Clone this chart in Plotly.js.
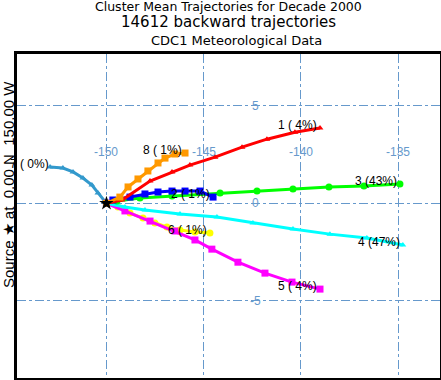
<!DOCTYPE html>
<html>
<head>
<meta charset="utf-8">
<script src="https://cdn.plot.ly/plotly-3.0.1.min.js"></script>
<style>html,body{margin:0;padding:0;background:#fff;}#chart{width:441px;height:380px;}</style>
</head>
<body>
<div id="chart"></div>
<script>
// Source location
const srcLon = [-150.0];
const srcLat = [0.0];

// Cluster mean trajectories (lon, lat), starting at the source
const lon1 = [-150.0, -149.20, -147.76, -146.63, -145.71, -144.42, -143.03, -141.75, -140.31, -139.02];
const lat1 = [0.0, 0.17, 1.14, 1.61, 1.96, 2.37, 2.88, 3.29, 3.65, 3.86];
const lon2 = [-150.0, -149.67, -148.79, -148.02, -147.35, -146.63, -145.96, -145.19, -144.52];
const lat2 = [0.0, 0.17, 0.32, 0.48, 0.58, 0.63, 0.63, 0.63, 0.32];
const lon3 = [-150.0, -149.46, -148.28, -146.63, -144.16, -142.26, -140.41, -138.56, -136.76, -134.91];
const lat3 = [0.0, 0.12, 0.27, 0.37, 0.53, 0.63, 0.73, 0.84, 0.89, 0.99];
const lon4 = [-150.0, -149.05, -148.02, -146.22, -144.32, -142.47, -140.41, -138.51, -136.61, -134.76];
const lat4 = [0.0, -0.19, -0.34, -0.55, -0.70, -1.01, -1.32, -1.58, -1.78, -2.14];
const lon5 = [-150.0, -149.05, -147.76, -146.48, -145.45, -144.58, -143.24, -141.85, -140.46, -139.02];
const lat5 = [0.0, -0.39, -0.91, -1.42, -1.88, -2.35, -3.02, -3.58, -4.04, -4.40];
const lon6 = [-150.0, -149.41, -148.79, -148.12, -147.51, -146.89, -146.22, -145.45, -144.68];
const lat6 = [0.0, -0.19, -0.50, -0.75, -1.01, -1.22, -1.37, -1.47, -1.52];
const lon7 = [-150.0, -150.44, -150.75, -151.21, -151.72, -152.24, -152.90];
const lat7 = [0.0, 0.53, 0.94, 1.30, 1.61, 1.81, 1.86];
const lon8 = [-150.0, -149.31, -148.89, -148.38, -147.87, -147.35, -146.99, -146.48, -145.96];
const lat8 = [0.0, 0.32, 0.84, 1.25, 1.66, 2.07, 2.32, 2.53, 2.58];

const clusterLabels = ["1 ( 4%)", "2 ( 1%)", "3 (43%)", "4 (47%)", "5 ( 4%)", "6 ( 1%)", "7 ( 0%)", "8 ( 1%)"];
const lonTicks = [-150, -145, -140, -135];
const lonTickText = ["-150", "-145", "-140", "-135"];
const latTicks = [5, 0, -5];
const latTickText = ["5", "0", "-5"];
const lonLabelLat = 2.65;    // latitude where longitude labels sit
const latLabelLon = -142.35; // longitude where latitude labels sit

const lons = [lon1, lon2, lon3, lon4, lon5, lon6, lon7, lon8];
const lats = [lat1, lat2, lat3, lat4, lat5, lat6, lat7, lat8];
const colors = ["#ff0000", "#0000ff", "#00ff00", "#00ffff", "#ff00ff", "#ffff00", "#3399cc", "#ff9900"];
const symbols = ["triangle-up", "square", "circle", "triangle-up", "square", "circle", "triangle-up", "square"];
const msizes = [6, 7, 7, 6, 7, 7, 6, 7];
const labelShift = [-1, -1, -1, -1, -1, -1, 1, -1];

const traces = [];
const order = [6, 5, 4, 3, 2, 1, 0, 7];
order.forEach(i => {
  traces.push({
    x: lons[i], y: lats[i], type: "scatter", mode: "lines+markers",
    line: {color: colors[i], width: 3},
    marker: {color: colors[i], size: msizes[i], symbol: symbols[i]},
    hoverinfo: "skip", showlegend: false, cliponaxis: false
  });
});
traces.push({
  x: srcLon, y: srcLat, type: "scatter", mode: "markers",
  marker: {color: "#000000", size: 11, symbol: "star"},
  showlegend: false, hoverinfo: "skip", cliponaxis: false
});

const W = 441, H = 380, ML = 17, MR = 1, MT = 54, MB = 2;
const px2x = px => (px - ML) / (W - ML - MR);
const py2y = py => (H - MB - py) / (H - MT - MB);

const annotations = [];
lonTicks.forEach((v, i) => {
  annotations.push({
    x: v, y: lonLabelLat, xref: "x", yref: "y", text: lonTickText[i], showarrow: false,
    xanchor: "center", yanchor: "middle",
    font: {family: "Liberation Sans, Arial, sans-serif", size: 12, color: "#6699cc"}
  });
});
latTicks.forEach((v, i) => {
  annotations.push({
    x: latLabelLon, y: v, xref: "x", yref: "y", text: latTickText[i], showarrow: false,
    xanchor: "center", yanchor: "middle",
    font: {family: "Liberation Sans, Arial, sans-serif", size: 12, color: "#6699cc"}
  });
});
const titleLines = [
  {text: "Cluster Mean Trajectories for Decade 2000", size: 12.5, y: 6, x: 229},
  {text: "14612 backward trajectories", size: 15, y: 22, x: 228},
  {text: "CDC1 Meteorological Data", size: 13, y: 40, x: 236}
];
titleLines.forEach(t => {
  annotations.push({
    x: px2x(t.x), y: py2y(t.y), xref: "paper", yref: "paper", text: t.text,
    showarrow: false, xanchor: "center", yanchor: "middle",
    font: {family: "DejaVu Sans, sans-serif", size: t.size, color: "#000000"}
  });
});
annotations.push({
  x: px2x(8), y: py2y(185), xref: "paper", yref: "paper",
  text: "Source \u2605 at  0.00 N  150.00 W", textangle: -90, showarrow: false,
  xanchor: "center", yanchor: "middle",
  font: {family: "Liberation Sans, Arial, sans-serif", size: 15, color: "#000000"}
});
lons.forEach((lo, i) => {
  const la = lats[i];
  annotations.push({
    x: lo[lo.length - 1], y: la[la.length - 1], xref: "x", yref: "y",
    text: clusterLabels[i], showarrow: false, xanchor: "right", yanchor: "middle",
    xshift: labelShift[i], yshift: 3,
    font: {family: "Liberation Sans, Arial, sans-serif", size: 12, color: "#000000"}
  });
});

const layout = {
  width: W, height: H,
  margin: {l: ML, r: MR, t: MT, b: MB, pad: 0},
  paper_bgcolor: "#ffffff", plot_bgcolor: "#ffffff",
  xaxis: {
    range: [-154.6, -132.85], tickvals: lonTicks, showticklabels: false,
    showgrid: true, gridcolor: "#6699cc", gridwidth: 1, griddash: "dashdot",
    zeroline: false, showline: true, linecolor: "#000000", linewidth: 3, mirror: true,
    ticks: "", fixedrange: true
  },
  yaxis: {
    range: [-8.96, 7.66], tickvals: latTicks, showticklabels: false,
    showgrid: true, gridcolor: "#6699cc", gridwidth: 1, griddash: "dashdot",
    zeroline: false, showline: true, linecolor: "#000000", linewidth: 3, mirror: true,
    ticks: "", fixedrange: true
  },
  annotations: annotations,
  showlegend: false
};

Plotly.newPlot("chart", traces, layout, {displayModeBar: false, staticPlot: true});
</script>
</body>
</html>
